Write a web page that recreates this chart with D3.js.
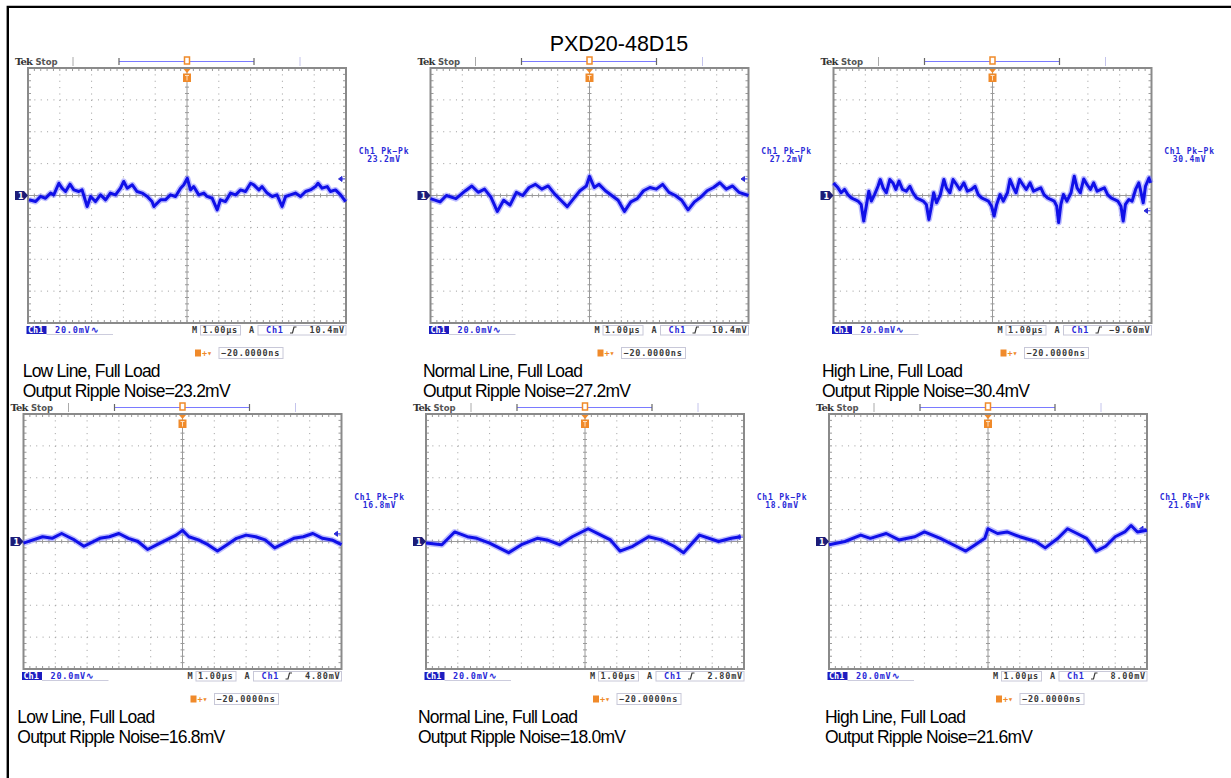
<!DOCTYPE html>
<html>
<head>
<meta charset="utf-8">
<script src="https://cdn.jsdelivr.net/npm/d3@7"></script>
<style>
body { margin: 0; background: #fff; }
svg { display: block; }
.mono { font-family: "DejaVu Sans Mono", monospace; font-weight: bold; font-size: 8.5px; letter-spacing: 0.8px; }
.cap { font-family: "Liberation Sans", Arial, sans-serif; font-size: 17.5px; letter-spacing: -0.77px; fill: #000; }
</style>
</head>
<body>
<div class="scopes"></div>
<script>
(function() {
var W = 1231, H = 778;

const title = "PXD20-48D15";
const captions = ["Low Line, Full Load", "Normal Line, Full Load", "High Line, Full Load",
                  "Low Line, Full Load", "Normal Line, Full Load", "High Line, Full Load"];
const rippleMv = ["23.2", "27.2", "30.4", "16.8", "18.0", "21.6"];
const trigLevelMv = [10.4, 10.4, -9.6, 4.8, 2.8, 8.0];
const trigLabels = ["10.4mV", "10.4mV", "\u22129.60mV", "4.80mV", "2.80mV", "8.00mV"];
const voltsDiv = "20.0mV", timeDiv = "1.00\u00b5s", trigOffset = "\u221220.0000ns";

// traces: [time us, mV]
const wave1 = [[0.03,-2.7],[0.24,-3.8],[0.39,-0.6],[0.55,-1.7],[0.71,1.5],[0.81,0.4],[0.97,7.7],[1.07,4.6],[1.18,2.5],[1.32,7.1],[1.44,3.5],[1.6,2.5],[1.7,3.5],[1.86,-6.9],[1.97,-0.6],[2.12,-3.8],[2.28,0.4],[2.44,-2.7],[2.59,1.5],[2.75,0.4],[2.91,4.6],[3.01,8.8],[3.12,4.6],[3.28,6.7],[3.43,2.5],[3.59,1.5],[3.75,-0.6],[3.9,-3.8],[3.96,-6.9],[4.17,-2.7],[4.32,-2.7],[4.48,0.4],[4.64,-0.6],[4.8,4.6],[4.9,6.7],[5.01,10.8],[5.11,3.5],[5.21,5.6],[5.37,0.4],[5.53,1.5],[5.63,-0.6],[5.79,-1.7],[5.95,-9],[6.05,-2.7],[6.21,-3.8],[6.37,1.5],[6.53,0.4],[6.68,3.5],[6.84,2.5],[7,7.7],[7.1,6.7],[7.26,3.5],[7.36,5.6],[7.52,1.5],[7.68,-0.6],[7.83,0.4],[7.99,-6.9],[8.1,-0.6],[8.25,0.4],[8.41,1.5],[8.57,-0.6],[8.73,2.5],[8.88,3.5],[9.04,5.6],[9.12,7.7],[9.25,4.6],[9.41,5.6],[9.51,2.5],[9.67,3.5],[9.83,0.4],[9.99,-3.8]];
const wave2 = [[0,-2],[0.3,-4],[0.5,0],[0.8,-2],[1.1,3],[1.3,6],[1.5,2],[1.7,4],[1.9,-1],[2.1,-10],[2.3,-3],[2.5,-6],[2.7,2],[2.9,0],[3.1,5],[3.3,7],[3.5,4],[3.7,6],[3.9,1],[4.1,-3],[4.3,-7],[4.5,-2],[4.7,3],[4.9,6],[5,12],[5.15,5],[5.3,7],[5.5,3],[5.7,0],[5.9,-3],[6.1,-10],[6.3,-4],[6.5,-2],[6.7,3],[6.9,5],[7.1,4],[7.3,7],[7.5,2],[7.7,0],[7.9,-3],[8.1,-9],[8.3,-4],[8.5,-1],[8.7,3],[8.9,5],[9.1,8],[9.3,4],[9.5,6],[9.7,2],[10,0]];
const wave3 = [[0,7.9],[0.14,4.8],[0.24,1.7],[0.35,3.8],[0.45,0.6],[0.56,-1.5],[0.66,-2.5],[0.77,-3.5],[0.87,-5.6],[0.95,-16],[1.03,-6.7],[1.11,2.7],[1.19,-3.5],[1.29,0.6],[1.4,5.8],[1.47,10],[1.56,4.8],[1.66,1.7],[1.77,10],[1.87,7.9],[1.96,3.8],[2.06,9],[2.17,3.8],[2.29,2.7],[2.4,5.8],[2.5,1.7],[2.61,-1.5],[2.71,-2.5],[2.82,-3.5],[2.92,-5.6],[3,-15],[3.08,-6.7],[3.15,1.7],[3.24,-4.6],[3.36,0.6],[3.47,10],[3.55,4.8],[3.66,1.7],[3.76,10],[3.87,6.9],[3.97,3.8],[4.1,7.9],[4.21,2.7],[4.34,3.8],[4.45,5.8],[4.55,0.6],[4.66,-1.5],[4.76,-2.5],[4.87,-3.5],[4.97,-6.7],[5.05,-12.9],[5.13,-5.6],[5.24,0.6],[5.34,-3.5],[5.47,1.7],[5.55,10],[5.66,4.8],[5.74,1.7],[5.85,10],[5.95,6.9],[6.06,3.8],[6.18,7.9],[6.29,2.7],[6.41,3.8],[6.52,4.8],[6.62,0.6],[6.73,-1.5],[6.83,-2.5],[6.94,-3.5],[7.02,-6.7],[7.08,-17],[7.15,-5.6],[7.23,0.6],[7.34,-3.5],[7.47,1.7],[7.57,12.1],[7.66,4.8],[7.76,1.7],[7.87,10.4],[7.97,6.9],[8.08,3.8],[8.18,7.9],[8.29,2.7],[8.41,3.8],[8.52,4.8],[8.62,0.6],[8.73,-1.5],[8.83,-2.5],[8.94,-3.5],[9.04,-6.7],[9.11,-16],[9.18,-5.6],[9.29,-2.5],[9.39,-3.5],[9.5,3.8],[9.6,7.9],[9.65,3.8],[9.74,-4.6],[9.81,5.8],[9.92,11],[9.97,7.9]];
const wave4 = [[0,-1],[0.3,1],[0.6,3],[0.9,2],[1.2,5],[1.4,3],[1.6,1],[1.9,-3],[2.1,-1],[2.4,2],[2.7,3],[3,5],[3.3,2],[3.6,0],[3.9,-5],[4.2,-2],[4.5,1],[4.8,4],[5,7],[5.2,3],[5.5,1],[5.8,-2],[6.1,-6],[6.4,-2],[6.7,2],[7,4],[7.3,3],[7.6,1],[7.9,-4],[8.2,-1],[8.5,2],[8.8,3],[9.1,5],[9.4,2],[9.7,1],[10,-2]];
const wave5 = [[0,-1],[0.5,-2],[0.9,6],[1.3,3],[1.6,2],[2,-1],[2.3,-4],[2.6,-7],[3,-2],[3.5,2],[3.8,1],[4.2,-2],[4.6,3],[5.1,8],[5.5,4],[5.8,1],[6.1,-6],[6.5,-3],[7,3],[7.4,1],[7.8,-3],[8.1,-7],[8.6,4],[9.2,0],[9.6,2],[9.9,3]];
const wave6 = [[0,-2],[0.5,0],[1,4],[1.3,2],[1.8,5],[2.2,1],[2.7,3],[3,6],[3.5,2],[4,-3],[4.3,-6],[4.6,-2],[4.9,2],[5,8],[5.3,5],[5.6,6],[6,3],[6.5,0],[6.8,-4],[7.2,2],[7.5,8],[7.8,5],[8.1,2],[8.4,-6],[8.7,-3],[9,3],[9.3,6],[9.5,10],[9.7,6],[10,7]];
const waves = [wave1, wave2, wave3, wave4, wave5, wave6];

// screen layout
const scopeLeft = [28, 430.5, 833.5, 23.5, 426, 829];
const scopeTop = [68, 68, 68, 414, 414, 414];
const captionLeft = [22.7, 423, 822, 17.3, 418, 825];
const pw = 318, ph = 255;

var svg = d3.select(".scopes").append("svg").attr("width", W).attr("height", H);

// outer frame
svg.append("path")
    .attr("d", "M7.8,778 V6.9 H1231")
    .attr("fill", "none").attr("stroke", "#000").attr("stroke-width", 2.4);

svg.append("text")
    .attr("x", 619).attr("y", 50.5)
    .attr("text-anchor", "middle")
    .style("font-family", "'Liberation Sans', Arial, sans-serif")
    .style("font-size", "21.5px")
    .text(title);

const orange = "#f08a2a", blue = "#2a2ad8", dark = "#3a3a3a";

function drawScope(i) {
    var L = scopeLeft[i], T = scopeTop[i], R = L + pw, B = T + ph;
    var x = d3.scaleLinear().domain([0, 10]).range([L, R]);
    var y = d3.scaleLinear().domain([-80, 80]).range([B, T]);
    var g = svg.append("g");
    var cx = x(5), cy = y(0);

    // dotted grid
    d3.range(1, 10).filter((d) => d !== 5).forEach((d) => {
        g.append("line").attr("x1", x(d)).attr("x2", x(d)).attr("y1", T).attr("y2", B)
            .attr("stroke", "#9c9c9c").attr("stroke-dasharray", "1," + (ph / 40 - 1));
    });
    d3.range(-60, 61, 20).filter((d) => d !== 0).forEach((d) => {
        g.append("line").attr("y1", y(d)).attr("y2", y(d)).attr("x1", L).attr("x2", R)
            .attr("stroke", "#9c9c9c").attr("stroke-dasharray", "1," + (pw / 50 - 1));
    });
    // centre cross
    g.append("line").attr("x1", cx).attr("x2", cx).attr("y1", T).attr("y2", B).attr("stroke", "#9a9a9a");
    g.append("line").attr("y1", cy).attr("y2", cy).attr("x1", L).attr("x2", R).attr("stroke", "#9a9a9a");

    // minor ticks on centre lines and borders
    var xt = d3.range(0.2, 10, 0.2), yt = d3.range(-76, 77, 4);
    g.selectAll(".xt").data(xt).enter().append("path")
        .attr("d", (d) => "M" + x(d) + "," + (cy - 2) + "v4 M" + x(d) + "," + T + "v3 M" + x(d) + "," + B + "v-3")
        .attr("stroke", "#9a9a9a");
    g.selectAll(".yt").data(yt).enter().append("path")
        .attr("d", (d) => "M" + (cx - 2) + "," + y(d) + "h4 M" + L + "," + y(d) + "h3 M" + R + "," + y(d) + "h-3")
        .attr("stroke", "#9a9a9a");

    g.append("rect").attr("x", L).attr("y", T).attr("width", pw).attr("height", ph)
        .attr("fill", "none").attr("stroke", "#8a8a8a").attr("stroke-width", 2);

    // header
    g.append("text").attr("x", L - 13).attr("y", T - 3.5)
        .style("font-family", "'DejaVu Serif', serif").style("font-weight", "bold")
        .style("font-size", "10px").style("letter-spacing", "-0.8px").attr("fill", "#333").text("Tek");
    g.append("text").attr("x", L + 7.5).attr("y", T - 3.5)
        .style("font-family", "'DejaVu Sans', sans-serif").style("font-weight", "bold")
        .style("font-size", "8.5px").attr("fill", "#555").text("Stop");
    g.append("line").attr("x1", L + 45).attr("x2", L + 45).attr("y1", T - 11).attr("y2", T - 2).attr("stroke", "#aaa");
    g.append("line").attr("x1", L + 272).attr("x2", L + 272).attr("y1", T - 11).attr("y2", T - 2).attr("stroke", "#c4c4ec");
    g.append("line").attr("x1", L + 91).attr("x2", L + 226).attr("y1", T - 6.5).attr("y2", T - 6.5)
        .attr("stroke", "#7a7aff").attr("stroke-width", 1.2);
    g.append("path").attr("d", "M" + (L + 91) + "," + (T - 10) + "v7 M" + (L + 226) + "," + (T - 10) + "v7")
        .attr("stroke", "#666").attr("stroke-width", 1.2);
    g.append("rect").attr("x", cx - 2.5).attr("y", T - 11).attr("width", 5).attr("height", 7)
        .attr("fill", "#fff").attr("stroke", orange).attr("stroke-width", 1.5);
    g.append("path").attr("d", "M" + (cx - 3.5) + "," + (T + 1) + "h7 l-3.5,4 z").attr("fill", orange);
    g.append("rect").attr("x", cx - 4).attr("y", T + 5.5).attr("width", 8).attr("height", 8.5).attr("fill", orange);
    g.append("path").attr("d", "M" + (cx - 2) + "," + (T + 7.5) + "h4 M" + cx + "," + (T + 7.5) + "v5")
        .attr("stroke", "#fde0c0").attr("stroke-width", 1);

    // ground marker and trigger level arrow
    g.append("path").attr("d", "M" + (L - 13) + "," + (cy - 4.5) + "h9 l4,4.5 l-4,4.5 h-9 z").attr("fill", "#1c1c78");
    g.append("text").attr("x", L - 10).attr("y", cy + 3).attr("fill", "#fff")
        .style("font-family", "'DejaVu Sans', sans-serif").style("font-weight", "bold").style("font-size", "8px").text("1");
    var ty = y(trigLevelMv[i]);
    g.append("path").attr("d", "M" + (R - 7.5) + "," + ty + "l3.5,-2.5 v5 z M" + (R - 4) + "," + ty + "h3")
        .attr("fill", blue).attr("stroke", blue).attr("stroke-width", 1);

    // trace
    var line = d3.line().x((d) => x(d[0])).y((d) => y(d[1]));
    g.append("path").datum(waves[i]).attr("d", line).attr("fill", "none")
        .attr("stroke", "#7c7cff").attr("stroke-width", 6).attr("stroke-opacity", 0.5).attr("stroke-linejoin", "round");
    g.append("path").datum(waves[i]).attr("d", line).attr("fill", "none")
        .attr("stroke", "#1010e8").attr("stroke-width", 3).attr("stroke-linejoin", "round");

    // measurement readout
    g.append("text").attr("class", "mono").attr("x", R + 38).attr("y", T + 86).attr("text-anchor", "middle")
        .attr("fill", blue).style("font-size", "8px").text("Ch1 Pk\u2212Pk");
    g.append("text").attr("class", "mono").attr("x", R + 38).attr("y", T + 93.7).attr("text-anchor", "middle")
        .attr("fill", blue).style("font-size", "8px").text(rippleMv[i] + "mV");

    // status line
    g.append("rect").attr("x", L - 1.5).attr("y", B + 3).attr("width", 20).attr("height", 8).attr("fill", "#1c1cc0");
    g.append("text").attr("class", "mono").attr("x", L + 0).attr("y", B + 10).attr("fill", "#fff").style("letter-spacing", "0px").text("Ch1");
    g.append("path").attr("d", "M" + (L + 18.5) + "," + (B + 11.5) + "H" + (L + 85))
        .attr("stroke", "#ccd").attr("stroke-width", 1);
    g.append("text").attr("class", "mono").attr("x", L + 27).attr("y", B + 10).attr("fill", blue).text(voltsDiv + "\u223f");
    g.append("text").attr("class", "mono").attr("x", L + 164).attr("y", B + 10).attr("fill", dark).text("M");
    g.append("rect").attr("x", L + 172.5).attr("y", B + 2.5).attr("width", 40).attr("height", 9.5)
        .attr("fill", "none").attr("stroke", "#c8c8d8");
    g.append("text").attr("class", "mono").attr("x", L + 174.5).attr("y", B + 10).attr("fill", dark).text(timeDiv);
    g.append("text").attr("class", "mono").attr("x", L + 221).attr("y", B + 10).attr("fill", dark).text("A");
    g.append("rect").attr("x", L + 230).attr("y", B + 2.5).attr("width", 88).attr("height", 9.5)
        .attr("fill", "none").attr("stroke", "#c8c8d8");
    g.append("text").attr("class", "mono").attr("x", L + 238).attr("y", B + 10).attr("fill", blue).text("Ch1");
    g.append("path").attr("d", "M" + (L + 262) + "," + (B + 10) + "h2.5 l1.5,-6 h2.5")
        .attr("fill", "none").attr("stroke", dark).attr("stroke-width", 1.2);
    g.append("text").attr("class", "mono").attr("x", R - 1).attr("y", B + 10).attr("text-anchor", "end")
        .attr("fill", dark).text(trigLabels[i]);

    // trigger position line
    g.append("rect").attr("x", L + 167).attr("y", B + 26.5).attr("width", 6).attr("height", 7).attr("fill", orange);
    g.append("text").attr("class", "mono").attr("x", L + 174).attr("y", B + 33).attr("fill", orange)
        .style("letter-spacing", "0px").text("+\u25be");
    g.append("rect").attr("x", L + 191).attr("y", B + 24.5).attr("width", 64).attr("height", 11)
        .attr("fill", "none").attr("stroke", "#c8c8d8");
    g.append("text").attr("class", "mono").attr("x", L + 193).attr("y", B + 33).attr("fill", dark).text(trigOffset);

    // caption
    g.append("text").attr("class", "cap").attr("x", captionLeft[i]).attr("y", B + 53.7).text(captions[i]);
    g.append("text").attr("class", "cap").attr("x", captionLeft[i]).attr("y", B + 73.7).text("Output Ripple Noise=" + rippleMv[i] + "mV");
}

d3.range(6).forEach(drawScope);
}())
</script>
</body>
</html>
